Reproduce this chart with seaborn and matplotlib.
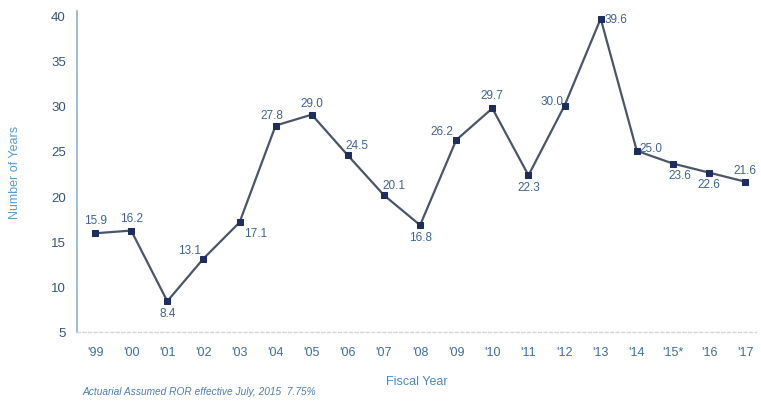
import matplotlib
matplotlib.use("Agg")
import matplotlib.pyplot as plt
import seaborn as sns
import pandas as pd

# Fiscal years and number of years values
years = ["'99", "'00", "'01", "'02", "'03", "'04", "'05", "'06", "'07", "'08",
         "'09", "'10", "'11", "'12", "'13", "'14", "'15*", "'16", "'17"]
values = [15.9, 16.2, 8.4, 13.1, 17.1, 27.8, 29.0, 24.5, 20.1, 16.8,
          26.2, 29.7, 22.3, 30.0, 39.6, 25.0, 23.6, 22.6, 21.6]
y_ticks = [5, 10, 15, 20, 25, 30, 35, 40]

# label placement per point: (dx, dy in points, ha, va)
label_pos = [
    (0, 5, "center", "bottom"), (0, 5, "center", "bottom"), (0, -4, "center", "top"),
    (-2, 2, "right", "bottom"), (3, -3, "left", "top"), (-3, 3, "center", "bottom"),
    (0, 4, "center", "bottom"), (-2, 3, "left", "bottom"), (-1, 3, "left", "bottom"),
    (0, -4, "center", "top"), (-2, 2, "right", "bottom"), (0, 5, "center", "bottom"),
    (0, -4, "center", "top"), (-1, 3, "right", "center"), (3, 0, "left", "center"),
    (2, 2, "left", "center"), (5, -4, "center", "top"), (0, -4, "center", "top"),
    (0, 4, "center", "bottom"),
]

df = pd.DataFrame({"pos": range(len(years)), "value": values})

sns.set_theme(style="white")
plt.rcParams["font.family"] = ["Liberation Sans", "DejaVu Sans"]

fig = plt.figure(figsize=(7.61, 4.02), dpi=100)
ax = fig.add_axes([77 / 761, 1 - 333 / 402, (756 - 77) / 761, (333 - 12.4) / 402])

sns.lineplot(data=df, x="pos", y="value", ax=ax, color="#4a5668", linewidth=1.6,
             marker="s", markersize=4.5, markerfacecolor="#1d2d5c",
             markeredgecolor="#1d2d5c", zorder=3)

label_color = "#3f6494"
for i, v in enumerate(values):
    dx, dy, ha, va = label_pos[i]
    ax.annotate(f"{v:.1f}", (i, v), xytext=(dx, dy), textcoords="offset points",
                ha=ha, va=va, fontsize=8.5, color=label_color)

ax.set_xlim(-0.5, 18.3)
ax.set_ylim(5, 40.4)
ax.set_xticks(range(len(years)))
ax.set_xticklabels(years)
ax.set_yticks(y_ticks)
ax.tick_params(axis="x", length=0, pad=10, labelsize=9, labelcolor="#3d6f9e")
ax.tick_params(axis="y", length=0, pad=8, labelsize=9.5, labelcolor="#3a5478")

for side in ("top", "right"):
    ax.spines[side].set_visible(False)
ax.spines["left"].set_color("#8fb3cc")
ax.spines["left"].set_linewidth(1.2)
ax.spines["bottom"].set_color("#d6d6d6")
ax.spines["bottom"].set_linestyle((0, (2, 2)))
ax.spines["bottom"].set_linewidth(1.0)

ax.set_xlabel("Fiscal Year", fontsize=9, color="#4f88ba")
ax.set_ylabel("Number of Years", fontsize=9, color="#5b9ccc")
ax.xaxis.set_label_coords(0.5, -0.134)
ax.yaxis.set_label_coords(-0.0825, 0.5)

fig.text(83 / 761, 1 - 392 / 402, "Actuarial Assumed ROR effective July, 2015  7.75%",
         fontsize=7.3, style="italic", color="#4f7fae", va="center", ha="left")

fig.savefig("out.png", dpi=100)
